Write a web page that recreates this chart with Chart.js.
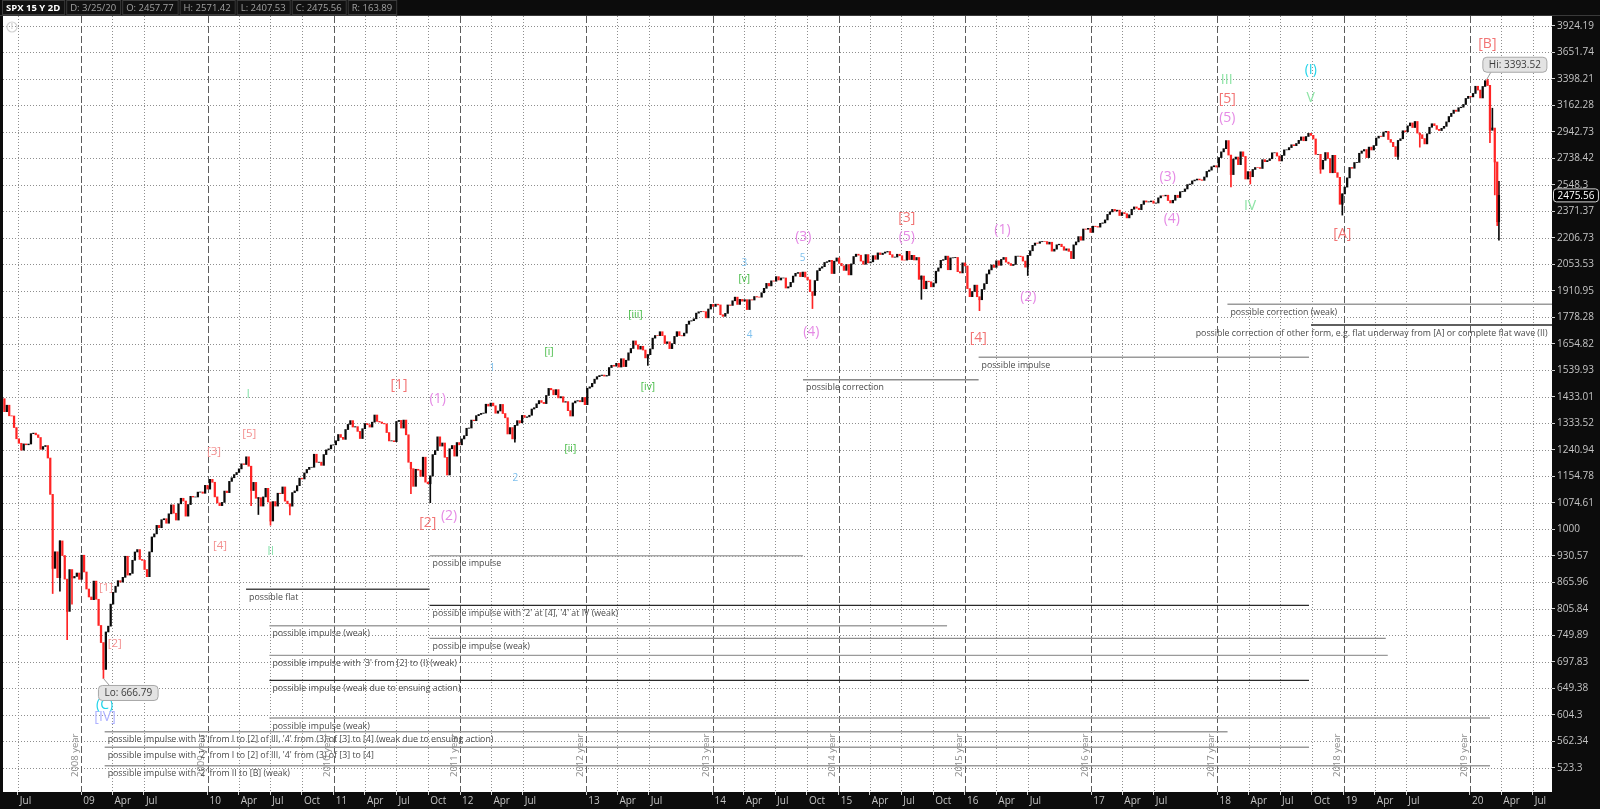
<!DOCTYPE html>
<html><head><meta charset="utf-8">
<script src="https://cdn.jsdelivr.net/npm/chart.js@4.4.1/dist/chart.umd.min.js"></script>
<style>html,body{margin:0;padding:0;background:#0c0c0c;overflow:hidden}#wrap{width:1600px;height:809px}</style>
</head><body><div id="wrap"><canvas id="c" width="1600" height="809"></canvas></div>
<script>
// ---------------- DATA (weekly closes read/estimated for SPX, week ending Fridays) ----------------
const weekStart = '2008-05-16';
const lastBarDate = '2020-03-25';
const firstOpen = 1388.28;
const c2008 = [1425.35,1375.93,1400.38,1360.68,1360.03,1317.93,1278.38,1262.90,1239.49,1260.68,1257.76,1260.31,1296.32,1298.20,1292.20,1282.83,1242.31,1251.70,1255.08,1213.27,1099.23,899.22,940.55,876.77,968.75,930.99,873.29,800.03,896.24,876.07,879.73,887.88,872.80];
const c2009 = [931.80,890.35,850.12,831.95,825.88,868.60,826.84,770.05,735.09,683.38,756.55,768.54,815.94,842.50,856.56,869.60,866.23,877.52,929.23,882.88,887.00,919.14,940.09,946.21,921.23,918.90,896.42,879.13,940.38,979.26,987.48,1010.48,1004.09,1026.13,1028.93,1016.40,1042.73,1068.30,1044.38,1025.21,1071.49,1087.68,1079.60,1036.19,1069.30,1093.48,1091.38,1091.49,1105.98,1106.41,1102.47,1126.48,1115.10];
const c2010 = [1144.98,1136.03,1091.76,1073.87,1066.19,1075.51,1109.17,1104.49,1138.70,1149.99,1159.90,1166.59,1178.10,1194.37,1192.13,1217.28,1186.69,1110.88,1135.68,1087.69,1089.41,1064.88,1091.60,1117.51,1076.76,1022.58,1077.96,1064.88,1102.66,1101.60,1121.64,1079.25,1071.69,1064.59,1104.51,1109.55,1125.59,1148.67,1146.24,1165.15,1176.19,1183.08,1183.26,1225.85,1199.21,1199.73,1189.40,1224.71,1240.40,1243.91,1256.77,1257.64];
const c2011 = [1271.50,1293.24,1283.35,1276.34,1310.87,1329.15,1343.01,1319.88,1321.15,1304.28,1279.21,1313.80,1332.41,1328.17,1319.68,1337.38,1363.61,1340.20,1337.77,1333.27,1331.10,1300.16,1270.98,1271.50,1268.45,1339.67,1343.80,1316.14,1345.02,1292.28,1199.38,1178.81,1123.53,1176.80,1173.97,1154.23,1216.01,1136.43,1131.42,1155.46,1224.58,1238.25,1285.09,1253.23,1263.85,1215.65,1158.67,1244.28,1255.19,1219.66,1265.33,1257.60];
const c2012 = [1277.81,1289.09,1315.38,1316.33,1344.90,1342.64,1361.23,1365.74,1369.63,1370.87,1404.17,1397.11,1408.47,1398.08,1370.26,1378.53,1403.36,1369.10,1353.39,1295.22,1317.82,1278.04,1325.66,1342.84,1335.02,1362.16,1354.68,1356.78,1362.66,1385.97,1390.99,1405.87,1418.16,1411.13,1406.58,1437.92,1465.77,1460.15,1440.67,1460.93,1428.59,1433.19,1411.94,1414.20,1379.85,1359.88,1409.15,1416.18,1418.07,1413.58,1430.15,1402.43];
const c2013 = [1466.47,1472.05,1485.98,1502.96,1513.17,1517.93,1519.79,1515.60,1518.20,1551.18,1560.70,1556.89,1569.19,1553.28,1588.85,1555.25,1582.24,1614.42,1633.70,1667.47,1649.60,1630.74,1643.38,1626.73,1592.43,1606.28,1631.89,1680.19,1692.09,1691.65,1709.67,1691.42,1655.83,1663.50,1632.97,1655.17,1687.99,1709.91,1691.75,1690.50,1703.20,1744.50,1759.77,1761.64,1770.61,1798.18,1804.76,1805.81,1805.09,1775.32,1818.32,1841.40];
const c2014 = [1831.37,1842.37,1838.70,1790.29,1782.59,1797.02,1838.63,1836.25,1859.45,1878.04,1841.13,1866.52,1857.62,1865.09,1815.69,1864.85,1863.40,1881.14,1878.48,1877.86,1900.53,1923.57,1949.44,1936.16,1962.87,1960.96,1985.44,1967.57,1978.22,1978.34,1925.15,1931.59,1955.06,1988.40,2003.37,2007.71,1985.54,2010.40,1982.85,1967.90,1906.13,1886.76,1964.58,2018.05,2031.92,2039.82,2063.50,2067.56,2075.37,2002.33,2070.65,2088.77];
const c2015 = [2058.20,2044.81,2019.42,2051.82,1994.99,2055.47,2096.99,2110.30,2104.50,2071.26,2053.40,2108.10,2061.02,2066.96,2102.06,2081.18,2117.69,2108.29,2116.10,2122.73,2126.06,2107.39,2092.83,2094.11,2109.99,2101.49,2076.78,2076.62,2126.64,2079.65,2103.84,2077.57,2091.54,1970.89,1988.87,1921.22,1961.05,1958.03,1931.34,1951.36,2014.89,2033.11,2075.15,2079.36,2099.20,2023.04,2089.17,2090.11,2091.69,2012.37,2005.55,2060.99,2043.94];
const c2016 = [1922.03,1880.33,1906.90,1940.24,1880.05,1864.78,1917.78,1948.05,1999.99,2022.19,2049.58,2035.94,2072.78,2047.60,2080.73,2091.58,2065.30,2057.14,2046.61,2052.32,2099.06,2099.13,2096.07,2071.22,2037.41,2102.95,2129.90,2161.74,2175.03,2173.60,2182.87,2184.05,2183.87,2169.04,2179.98,2127.81,2139.16,2164.69,2168.27,2153.74,2132.98,2141.16,2126.41,2085.18,2164.45,2181.90,2213.35,2191.95,2259.53,2258.07,2263.79,2238.83];
const c2017 = [2276.98,2274.64,2271.31,2294.69,2297.42,2316.10,2351.16,2367.34,2383.12,2372.60,2378.25,2343.98,2362.72,2355.54,2328.95,2348.69,2384.20,2399.29,2390.90,2381.73,2415.82,2439.07,2431.77,2433.15,2438.30,2423.41,2425.18,2459.27,2472.54,2472.10,2476.83,2441.32,2425.55,2443.05,2476.55,2461.43,2500.23,2502.22,2519.36,2549.33,2553.17,2575.21,2581.07,2587.84,2582.30,2578.85,2602.42,2642.22,2651.50,2675.81,2683.34,2673.61];
const c2018 = [2743.15,2786.24,2810.30,2872.87,2762.13,2619.55,2732.22,2747.30,2691.25,2786.57,2752.01,2588.26,2640.87,2604.47,2656.30,2670.14,2669.91,2663.42,2727.72,2712.97,2721.33,2734.62,2779.03,2779.66,2754.88,2718.37,2759.82,2801.31,2801.83,2818.82,2840.35,2833.28,2850.13,2874.69,2901.52,2871.68,2904.98,2929.67,2913.98,2885.57,2767.13,2767.78,2658.69,2723.06,2781.01,2736.27,2632.56,2760.17,2633.08,2599.95,2416.62,2485.74];
const c2019 = [2531.94,2596.26,2670.71,2664.76,2706.53,2707.88,2775.60,2792.67,2803.69,2743.07,2822.48,2800.71,2834.40,2892.74,2907.41,2905.03,2939.88,2945.64,2881.40,2859.53,2826.06,2752.06,2873.34,2886.98,2950.46,2941.76,2990.41,3013.77,2976.61,3025.86,2932.05,2918.65,2888.68,2847.11,2926.46,2978.71,3007.39,2992.07,2961.79,2952.01,2970.27,2986.20,3022.55,3066.91,3093.08,3120.46,3110.29,3140.98,3145.91,3168.80,3221.22,3240.02];
const c2020 = [3234.85,3265.35,3329.62,3295.47,3225.52,3327.71,3380.16,3337.75,2954.22,2972.37,2711.02,2304.92,2475.56];

// intraweek extremes (wicks)
const wickDates  = ['2008-10-10','2008-10-31','2008-11-21','2008-12-05','2009-03-06','2010-05-07','2010-05-28','2010-07-02','2010-08-27','2011-08-12','2011-10-07','2012-06-08','2013-06-28','2014-10-17','2015-08-28','2016-02-12','2016-07-01','2018-02-09','2018-04-06','2018-10-26','2018-12-28','2019-06-07','2019-08-09','2020-02-21','2020-02-28','2020-03-06','2020-03-13','2020-03-20','2020-03-25','2020-03-25'];
const wickValues = [839.80,845.27,741.02,815.69,666.79,1065.79,1040.78,1010.91,1039.70,1101.54,1074.77,1266.74,1560.33,1820.66,1867.01,1810.10,1991.68,2532.69,2553.80,2628.16,2346.58,2728.81,2822.12,3393.52,2855.84,3136.72,2478.86,2280.52,2191.86,2571.42];

// axis ticks
const yTickLabels = ['3924.19','3651.74','3398.21','3162.28','2942.73','2738.42','2548.3','2371.37','2206.73','2053.53','1910.95','1778.28','1654.82','1539.93','1433.01','1333.52','1240.94','1154.78','1074.61','1000','930.57','865.96','805.84','749.89','697.83','649.38','604.3','562.34','523.3'];
const xTickDates  = ['2008-07-01','2009-01-01','2009-04-01','2009-07-01','2010-01-01','2010-04-01','2010-07-01','2010-10-01','2011-01-01','2011-04-01','2011-07-01','2011-10-01','2012-01-01','2012-04-01','2012-07-01','2013-01-01','2013-04-01','2013-07-01','2014-01-01','2014-04-01','2014-07-01','2014-10-01','2015-01-01','2015-04-01','2015-07-01','2015-10-01','2016-01-01','2016-04-01','2016-07-01','2017-01-01','2017-04-01','2017-07-01','2018-01-01','2018-04-01','2018-07-01','2018-10-01','2019-01-01','2019-04-01','2019-07-01','2020-01-01','2020-04-01','2020-07-01'];
const xTickLabels = ['Jul','09','Apr','Jul','10','Apr','Jul','Oct','11','Apr','Jul','Oct','12','Apr','Jul','13','Apr','Jul','14','Apr','Jul','Oct','15','Apr','Jul','Oct','16','Apr','Jul','17','Apr','Jul','18','Apr','Jul','Oct','19','Apr','Jul','20','Apr','Jul'];
const yearLabels = ['2008 year','2009 year','2010 year','2011 year','2012 year','2013 year','2014 year','2015 year','2016 year','2017 year','2018 year','2019 year'];
const yearLineDates = ['2009-01-01','2010-01-01','2011-01-01','2012-01-01','2013-01-01','2014-01-01','2015-01-01','2016-01-01','2017-01-01','2018-01-01','2019-01-01','2020-01-01'];

const headerFields = ['SPX 15 Y 2D','D: 3/25/20','O: 2457.77','H: 2571.42','L: 2407.53','C: 2475.56','R: 163.89'];
const lastClose = 2475.56;
const loPoint = ['2009-03-06', 666.79, 'Lo: 666.79'];
const hiPoint = ['2020-02-19', 3393.52, 'Hi: 3393.52'];

// axis range
const xMin = 2008.3797, xMax = 2020.650;
const yMin = 489.9, yMax = 4029.4;

// wave labels: [text, decimal year, price, style]
const waveLabels = [
 ['(C)',2009.184,620.5,'cyan'],['[IV]',2009.188,600.6,'lav'],
 ['[1]',2009.196,854,'salS'],['[2]',2009.265,733.7,'salS'],['[3]',2010.051,1234,'salS'],['[4]',2010.099,956,'salS'],['[5]',2010.331,1297.5,'salS'],
 ['I',2010.323,1440,'grnM'],['II',2010.500,942.6,'grnM'],
 ['[1]',2011.517,1479.5,'salL'],['(1)',2011.823,1423,'vio'],['[2]',2011.744,1016,'salL'],['(2)',2011.913,1037,'vio'],
 ['1',2012.257,1548,'blu'],['2',2012.438,1150,'blu'],
 ['[i]',2012.705,1617,'grnS'],['[ii]',2012.874,1243,'grnS'],['[iii]',2013.389,1790.5,'grnS'],['[iv]',2013.488,1469,'grnS'],['[v]',2014.252,1974,'grnS'],
 ['3',2014.252,2059,'blu'],['4',2014.294,1694,'blu'],['5',2014.713,2085,'blu'],
 ['(3)',2014.719,2213,'vio'],['(4)',2014.783,1707,'vio'],
 ['[3]',2015.539,2326.5,'salL'],['(5)',2015.539,2213,'vio'],
 ['(1)',2016.297,2254,'vio'],['(2)',2016.502,1877,'vio'],['[4]',2016.106,1679,'salL'],
 ['(3)',2017.606,2600,'vio'],['(4)',2017.638,2320,'vio'],
 ['IV',2018.258,2407,'grnL'],['III',2018.073,3386,'grnL'],['[5]',2018.078,3219,'salL'],['(5)',2018.078,3057,'vio'],
 ['(I)',2018.739,3479,'cyan'],['V',2018.739,3222,'grnL'],['[A]',2018.989,2228,'salL'],['[B]',2020.138,3731,'salL']
];
const labelStyles = {
 salL:{c:'#f27474',s:14}, salS:{c:'#f39090',s:11.5}, vio:{c:'#e58ae5',s:14}, grnL:{c:'#8ee4a6',s:14},
 grnM:{c:'#8ee4b0',s:12.5}, grnS:{c:'#3db83d',s:10}, blu:{c:'#7fc1ee',s:10}, cyan:{c:'#22d4ea',s:14}, lav:{c:'#aeb2ff',s:14}
};

// scenario lines: [x1, x2, price, text, color, labelX]
const scenarioLines = [
 [2011.759,2014.717,930.57,'possible impulse','#a8a8a8'],
 [2010.305,2011.759,849.5,'possible flat','#4a4a4a'],
 [2011.759,2018.725,813.3,"possible impulse with '2' at [4], '4' at IV (weak)",'#2a2a2a'],
 [2010.490,2015.858,769.3,'possible impulse (weak)','#a0a0a0'],
 [2011.759,2019.333,743.4,'possible impulse (weak)','#8c8c8c'],
 [2010.490,2019.349,709.9,"possible impulse with '3' from [2] to (I) (weak)",'#9a9a9a'],
 [2010.490,2018.725,663.4,'possible impulse (weak due to ensuing action)','#2a2a2a'],
 [2010.490,2020.159,598.9,'possible impulse (weak)','#9a9a9a'],
 [2009.185,2018.080,577.0,"possible impulse with '3' from I to [2] of III, '4' from (3) of [3] to [4] (weak due to ensuing action)",'#9a9a9a'],
 [2009.185,2018.725,553.1,"possible impulse with '2' from I to [2] of III, '4' from (3) of [3] to [4]",'#9a9a9a'],
 [2009.185,2020.159,526.1,"possible impulse with '2' from II to [B] (weak)",'#9a9a9a'],
 [2014.717,2016.108,1500.5,'possible correction','#8c8c8c'],
 [2016.108,2018.725,1595,'possible impulse','#9a9a9a'],
 [2018.079,2020.65,1842,'possible correction (weak)','#9a9a9a'],
 [2018.741,2020.65,1741,'possible correction of other form, e.g. flat underway from [A] or complete flat wave (II)','#2a2a2a',2017.804]
];

// ---------------- BUILD ----------------
const FONT = '"Open Sans", "DejaVu Sans", sans-serif';
function decYearMs(ms){const d=new Date(ms);const y=d.getUTCFullYear();const a=Date.UTC(y,0,1),b=Date.UTC(y+1,0,1);return y+(ms-a)/(b-a);}
function decYear(s){const [y,m,d]=s.split('-').map(Number);return decYearMs(Date.UTC(y,m-1,d));}
const closes = [].concat(c2008,c2009,c2010,c2011,c2012,c2013,c2014,c2015,c2016,c2017,c2018,c2019,c2020);
const t0 = (()=>{const [y,m,d]=weekStart.split('-').map(Number);return Date.UTC(y,m-1,d);})();
const xs = closes.map((c,i)=> i===closes.length-1 ? decYear(lastBarDate) : decYearMs(t0+i*7*86400000));
const opens = closes.map((c,i)=> i? closes[i-1] : firstOpen);
const UP='#0a0a0a', DOWN='#ff2424';
const bodies = closes.map((c,i)=>({x:xs[i], y:[Math.min(opens[i],c), Math.max(opens[i],c)]}));
const bodyColors = closes.map((c,i)=> c>=opens[i]?UP:DOWN);
const wickIdx = wickDates.map(d=>{const t=decYear(d);let best=0,bd=1e9;xs.forEach((x,i)=>{const dd=Math.abs(x-t);if(dd<bd){bd=dd;best=i;}});return best;});
const wicks = wickValues.map((v,k)=>{const i=wickIdx[k];return {x:xs[i], y:[Math.min(v,closes[i]),Math.max(v,closes[i])]};});
const wickColors = wickIdx.map(i=>bodyColors[i]);
const yTickValues = yTickLabels.map(parseFloat);
const yAsc = yTickValues.slice().reverse(), yLabAsc = yTickLabels.slice().reverse();

function rr(ctx,x,y,w,h,r){ctx.beginPath();ctx.moveTo(x+r,y);ctx.arcTo(x+w,y,x+w,y+h,r);ctx.arcTo(x+w,y+h,x,y+h,r);ctx.arcTo(x,y+h,x,y,r);ctx.arcTo(x,y,x+w,y,r);ctx.closePath();}

const bgPlugin = {id:'bg', beforeDraw(chart){
  const {ctx,chartArea:a}=chart; ctx.save();
  ctx.fillStyle='#0c0c0c'; ctx.fillRect(0,0,chart.width,chart.height);
  ctx.fillStyle='#ffffff'; ctx.fillRect(a.left,a.top,a.right-a.left,a.bottom-a.top);
  ctx.restore();
}};

const gridPlugin = {id:'grid', beforeDatasetsDraw(chart){
  const {ctx,chartArea:a,scales:{x,y}}=chart; ctx.save();
  ctx.beginPath(); ctx.rect(a.left,a.top,a.right-a.left,a.bottom-a.top); ctx.clip();
  ctx.lineWidth=1; ctx.strokeStyle='#8e8e8e'; ctx.setLineDash([1,2]);
  yTickValues.forEach(v=>{const py=Math.round(y.getPixelForValue(v))+0.5;ctx.beginPath();ctx.moveTo(a.left,py);ctx.lineTo(a.right,py);ctx.stroke();});
  xTickDates.forEach((d,i)=>{ if(/^\d\d$/.test(xTickLabels[i])) return; const px=Math.round(x.getPixelForValue(decYear(d)))+0.5;ctx.beginPath();ctx.moveTo(px,a.top);ctx.lineTo(px,a.bottom);ctx.stroke();});
  ctx.strokeStyle='#5c5c5c'; ctx.setLineDash([7,3]);
  yearLineDates.forEach(d=>{const px=Math.round(x.getPixelForValue(decYear(d)))+0.5;ctx.beginPath();ctx.moveTo(px,a.top);ctx.lineTo(px,a.bottom);ctx.stroke();});
  ctx.restore();
}};

const annoPlugin = {id:'anno', afterDatasetsDraw(chart){
  const {ctx,chartArea:a,scales:{x,y}}=chart; ctx.save();
  ctx.beginPath(); ctx.rect(a.left,a.top,a.right-a.left,a.bottom-a.top); ctx.clip();
  // year texts
  ctx.fillStyle='#8a8a8a'; ctx.font='9.5px '+FONT; ctx.textAlign='left'; ctx.textBaseline='middle';
  yearLineDates.forEach((d,i)=>{const px=x.getPixelForValue(decYear(d));ctx.save();ctx.translate(px-6,a.bottom-15);ctx.rotate(-Math.PI/2);ctx.fillText(yearLabels[i],0,0);ctx.restore();});
  // scenario lines
  scenarioLines.forEach(L=>{
    const x1=x.getPixelForValue(L[0]), x2=x.getPixelForValue(L[1]), py=y.getPixelForValue(L[2]);
    ctx.strokeStyle=L[4]; ctx.lineWidth=1.4; ctx.setLineDash([]);
    ctx.beginPath(); ctx.moveTo(x1,py); ctx.lineTo(x2,py); ctx.stroke();
    const lx = L[5]!==undefined ? x.getPixelForValue(L[5]) : x1;
    ctx.fillStyle='#4a4a4a'; ctx.font='8.8px '+FONT; ctx.textAlign='left'; ctx.textBaseline='middle';
    ctx.fillText(L[3], lx+3, py+8);
  });
  // wave labels
  ctx.textAlign='center'; ctx.textBaseline='middle';
  waveLabels.forEach(w=>{const st=labelStyles[w[3]];ctx.fillStyle=st.c;ctx.font=st.s+'px '+FONT;ctx.fillText(w[0],x.getPixelForValue(w[1]),y.getPixelForValue(w[2]));});
  // callouts
  ctx.font='10px '+FONT;
  const drawCallout=(p,below)=>{
    const px=x.getPixelForValue(decYear(p[0])), py=y.getPixelForValue(p[1]);
    const tw=ctx.measureText(p[2]).width, w=tw+12, h=15;
    const bx= below? px-5 : px-4, by= below? py+7 : py-22;
    ctx.strokeStyle='#9a9a9a'; ctx.lineWidth=1;
    ctx.beginPath(); ctx.moveTo(px,py); ctx.lineTo(below?px+6:px+4, below?by:by+h); ctx.stroke();
    rr(ctx,bx,by,w,h,4); ctx.fillStyle='#e3e3e3'; ctx.fill(); ctx.strokeStyle='#a8a8a8'; ctx.stroke();
    ctx.fillStyle='#3c3c3c'; ctx.textAlign='center'; ctx.fillText(p[2],bx+w/2,by+h/2+0.5);
  };
  drawCallout(loPoint,true); drawCallout(hiPoint,false);
  // info icon
  ctx.strokeStyle='#d2d2d2'; ctx.lineWidth=1.2; ctx.beginPath(); ctx.arc(a.left+9,a.top+11,5,0,Math.PI*2); ctx.stroke();
  ctx.fillStyle='#d2d2d2'; ctx.font='bold 8px '+FONT; ctx.fillText('!',a.left+9,a.top+11);
  ctx.restore();
}, afterDraw(chart){
  const {ctx,chartArea:a,scales:{y}}=chart; ctx.save();
  // header
  ctx.fillStyle='#0c0c0c'; ctx.fillRect(0,0,chart.width,a.top);
  ctx.strokeStyle='#3a3a3a'; ctx.lineWidth=1;
  ctx.beginPath(); ctx.moveTo(0,15.5); ctx.lineTo(chart.width,15.5); ctx.stroke();
  let cx=2; ctx.textBaseline='middle'; ctx.textAlign='left';
  headerFields.forEach((t,i)=>{
    ctx.font=(i===0?'bold ':'')+'9.5px '+FONT;
    const w=ctx.measureText(t).width+8;
    ctx.fillStyle='#111'; ctx.fillRect(cx,0.5,w,14);
    ctx.strokeStyle='#3c3c3c'; ctx.strokeRect(cx+0.5,0.5,w,14);
    ctx.fillStyle=i===0?'#ffffff':'#a2a2a2'; ctx.fillText(t,cx+4,8);
    cx+=w+2;
  });
  // last price box on the axis
  const py=y.getPixelForValue(lastClose);
  ctx.font='10px '+FONT;
  const t=String(lastClose), w=ctx.measureText(t).width+8;
  rr(ctx,a.right+1.5,py-6.5,w,13,3); ctx.fillStyle='#000'; ctx.fill(); ctx.strokeStyle='#d8d8d8'; ctx.lineWidth=1; ctx.stroke();
  ctx.fillStyle='#ffffff'; ctx.textAlign='left'; ctx.fillText(t,a.right+5.5,py+0.5);
  ctx.restore();
}};

new Chart(document.getElementById('c').getContext('2d'), {
  type:'bar',
  data:{datasets:[
    {data:wicks, backgroundColor:wickColors, barThickness:1, grouped:false, borderWidth:0, order:2},
    {data:bodies, backgroundColor:bodyColors, barThickness:1.6, grouped:false, borderWidth:0, order:1}
  ]},
  options:{
    responsive:false, devicePixelRatio:1, animation:false,
    layout:{padding:{left:3,top:16,right:0,bottom:0}},
    plugins:{legend:{display:false}, tooltip:{enabled:false}},
    scales:{
      x:{type:'linear', min:xMin, max:xMax, offset:false, bounds:'data', position:'bottom',
        afterBuildTicks:s=>{s.ticks=xTickDates.map(d=>({value:decYear(d)}));},
        afterFit:s=>{s.height=17;},
        ticks:{autoSkip:false, maxRotation:0, minRotation:0, align:'start', labelOffset:2, padding:0, color:'#c4c4c4', font:{family:FONT,size:10}, callback:(v,i)=>xTickLabels[i]},
        grid:{drawOnChartArea:false, drawTicks:true, tickLength:3, tickColor:'#cfcfcf', offset:false},
        border:{display:false}},
      y:{type:'logarithmic', position:'right', min:yMin, max:yMax, bounds:'data',
        afterBuildTicks:s=>{s.ticks=yAsc.map(v=>({value:v}));},
        afterFit:s=>{s.width=48;},
        ticks:{autoSkip:false, padding:2, color:'#c4c4c4', font:{family:FONT,size:10}, callback:(v,i)=>yLabAsc[i]},
        grid:{drawOnChartArea:false, drawTicks:true, tickLength:3, tickColor:'#cfcfcf'},
        border:{display:false}}
    }
  },
  plugins:[bgPlugin,gridPlugin,annoPlugin]
});
</script></body></html>
